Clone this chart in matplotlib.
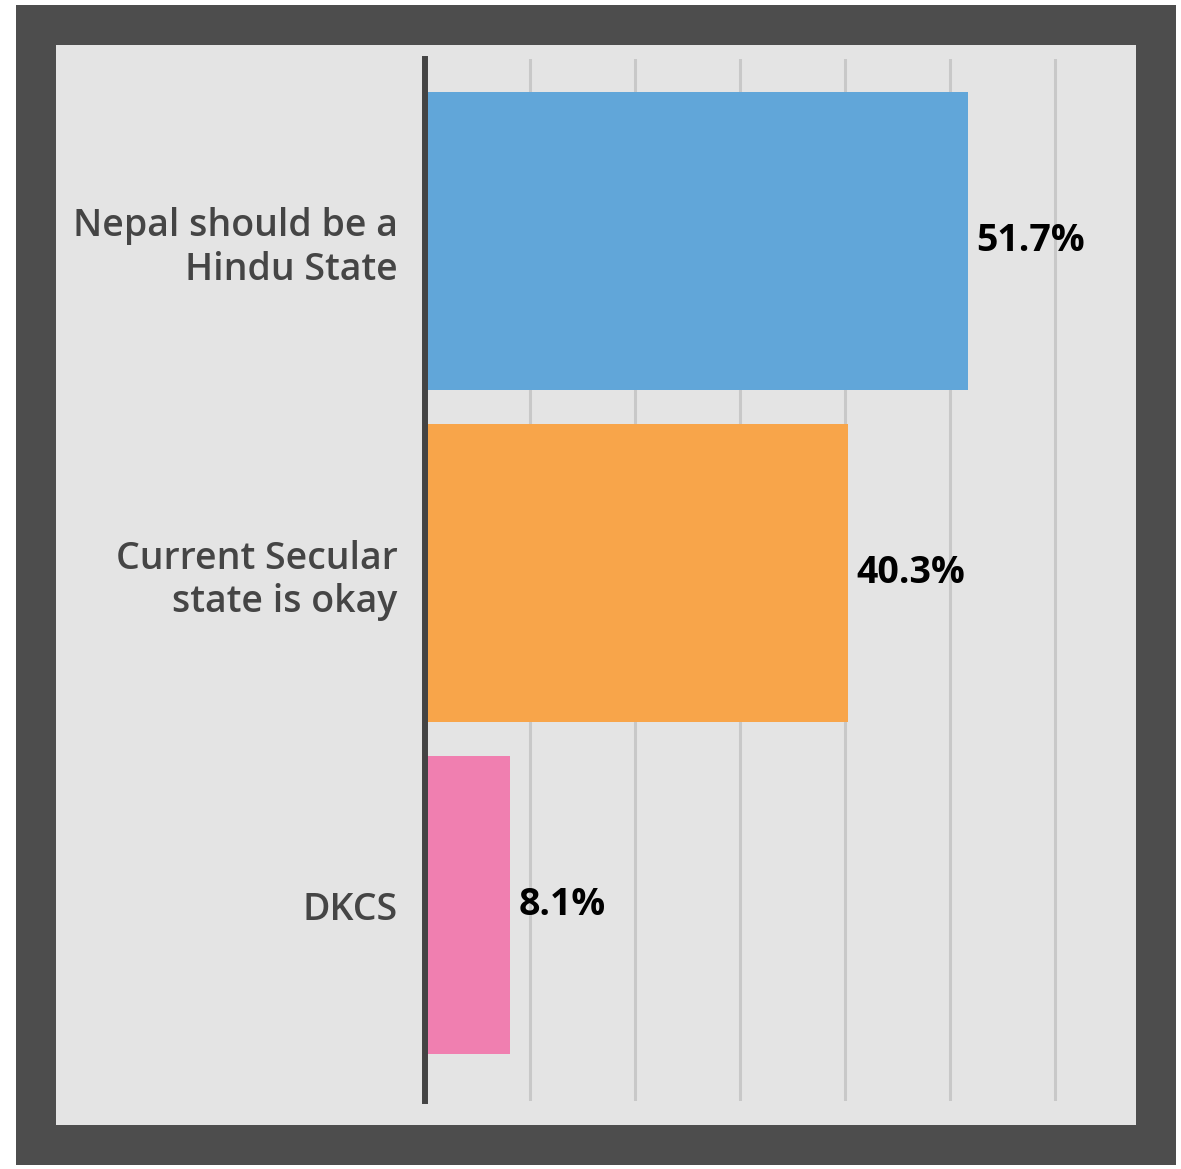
import matplotlib
matplotlib.use("Agg")
import matplotlib.pyplot as plt
from matplotlib.patches import Rectangle

categories = ["Nepal should be a\nHindu State", "Current Secular\nstate is okay", "DKCS"]
values = [51.7, 40.3, 8.1]
colors = ["#61a6d9", "#f8a54a", "#f07fb0"]
grid_ticks = [10, 20, 30, 40, 50, 60]

W, H = 1181, 1169
fig = plt.figure(figsize=(W / 100, H / 100), dpi=100)
fig.patch.set_facecolor("white")

def fx(px):
    return px / W

def fy(py):
    return 1 - py / H

# outer dark frame
fig.patches.append(Rectangle((fx(16), fy(1165)), fx(1176) - fx(16), fy(5) - fy(1165),
                             transform=fig.transFigure, facecolor="#4d4d4d", edgecolor="none", zorder=-10))
# inner light panel
fig.patches.append(Rectangle((fx(56), fy(1125)), fx(1136) - fx(56), fy(45) - fy(1125),
                             transform=fig.transFigure, facecolor="#e4e4e4", edgecolor="none", zorder=-9))

x0_px = 425.4
scale = 10.49
xmax = 61
left = fx(x0_px)
right = fx(x0_px + xmax * scale)
top_px, bot_px = 59, 1101
ax = fig.add_axes([left, fy(bot_px), right - left, fy(top_px) - fy(bot_px)])
ax.set_facecolor("none")
ax.set_zorder(1)

ypos = list(range(len(categories)))
ax.barh(ypos, values, height=0.8976, color=colors, zorder=2)
ax.set_xlim(0, xmax)
ax.set_ylim(2.590, -0.548)

for g in grid_ticks:
    ax.axvline(g, color="#c8c8c8", lw=2.2, zorder=1)

for s in ["top", "right", "bottom"]:
    ax.spines[s].set_visible(False)
ax.spines["left"].set_color("#444444")
ax.spines["left"].set_linewidth(4.3)
ax.spines["left"].set_zorder(3)

ax.set_xticks([])
ax.set_yticks(ypos)
ax.set_yticklabels(categories, fontsize=27, color="#454545", family=["Open Sans", "DejaVu Sans"],
                   fontweight="semibold", linespacing=1.2)
ax.tick_params(axis="y", length=0, pad=20)

for i, v in enumerate(values):
    ax.annotate(f"{v}%", xy=(v, i), xytext=(6, 0), textcoords="offset points",
                va="center", ha="left", fontsize=27, color="black",
                family="Open Sans", fontweight="bold", zorder=4)

fig.savefig("out.png", dpi=100)
